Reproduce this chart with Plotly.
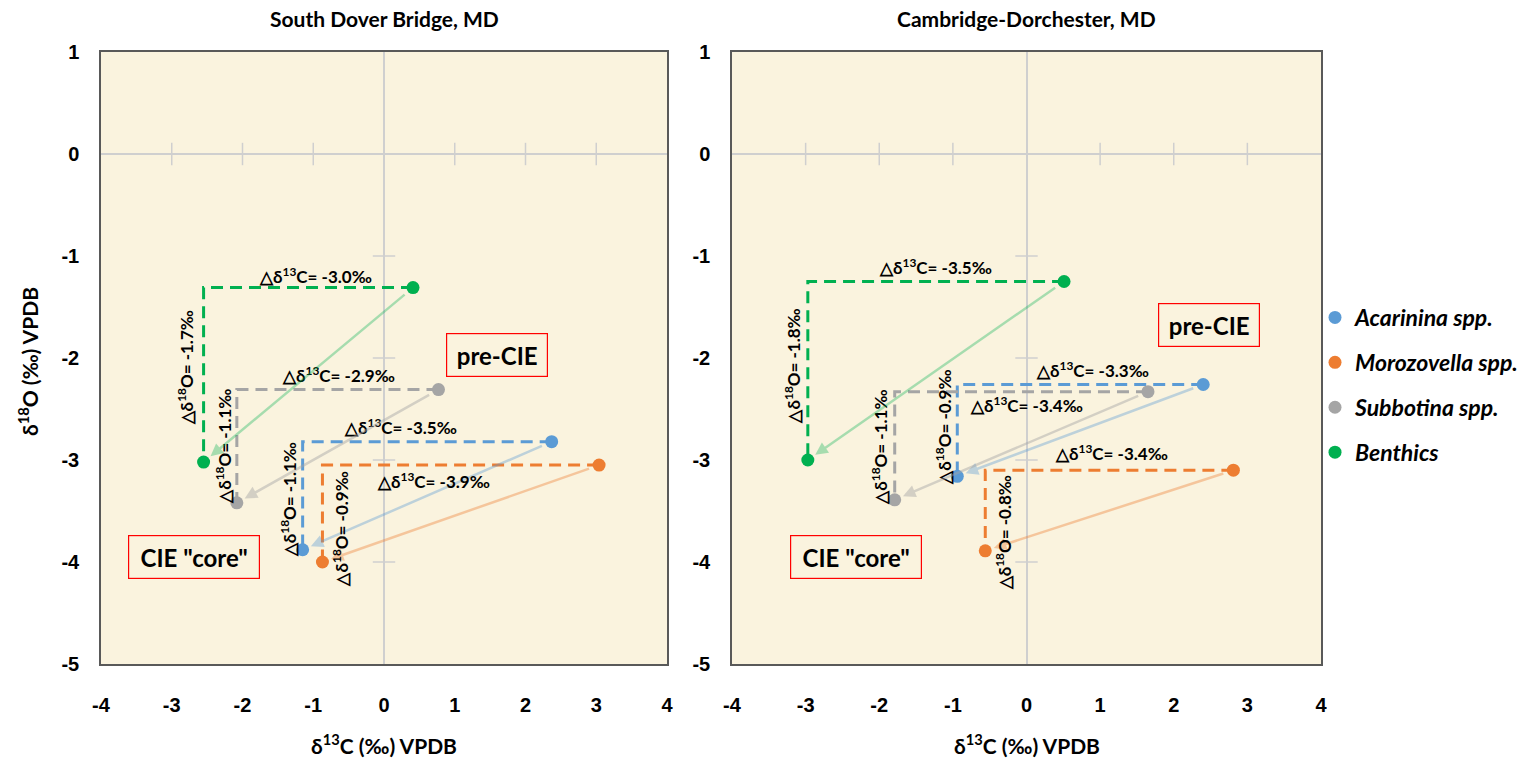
import plotly.graph_objects as go
from plotly.subplots import make_subplots

# ---------------- data ----------------
sites = ["South Dover Bridge, MD", "Cambridge-Dorchester, MD"]
species = ["Acarinina spp.", "Morozovella spp.", "Subbotina spp.", "Benthics"]

# South Dover Bridge
sdb_pre_c = [2.37, 3.04, 0.77, 0.41]
sdb_pre_o = [-2.82, -3.05, -2.31, -1.31]
sdb_core_c = [-1.15, -0.87, -2.08, -2.55]
sdb_core_o = [-3.88, -4.00, -3.42, -3.02]
sdb_d13c = ["-3.5", "-3.9", "-2.9", "-3.0"]
sdb_d18o = ["-1.1", "-0.9", "-1.1", "-1.7"]

# Cambridge-Dorchester
cd_pre_c = [2.40, 2.81, 1.65, 0.51]
cd_pre_o = [-2.26, -3.10, -2.33, -1.25]
cd_core_c = [-0.94, -0.56, -1.79, -2.97]
cd_core_o = [-3.16, -3.89, -3.39, -3.00]
cd_d13c = ["-3.3", "-3.4", "-3.4", "-3.5"]
cd_d18o = ["-0.9", "-0.8", "-1.1", "-1.8"]

x_ticks = [-4, -3, -2, -1, 0, 1, 2, 3, 4]
x_ticktext = ["-4", "-3", "-2", "-1", "0", "1", "2", "3", "4"]
y_ticks = [-5, -4, -3, -2, -1, 0, 1]
y_ticktext = ["-5", "-4", "-3", "-2", "-1", "0", "1"]

# ---------------- styling / placement ----------------
colors = ["#5B9BD5", "#ED7D31", "#A5A5A5", "#00B050"]
light = ["rgba(91,155,213,0.38)", "rgba(237,125,49,0.38)",
         "rgba(165,165,165,0.45)", "rgba(0,176,80,0.33)"]

# label placement (data coords) for delta annotations
sdb_c_lab = [(0.24, -2.67), (0.70, -3.20), (-0.65, -2.16), (-0.97, -1.19)]
sdb_o_lab = [(-1.35, -3.39), (-0.62, -3.68), (-2.26, -2.87), (-2.81, -2.10)]
cd_c_lab = [(0.89, -2.11), (1.16, -2.93), (0.00, -2.46), (-1.23, -1.10)]
cd_o_lab = [(-1.13, -2.68), (-0.32, -3.71), (-1.99, -2.87), (-3.18, -2.08)]

W, H = 1535, 758
xdom = [[101 / W, 667 / W], [732 / W, 1321 / W]]
ydom = [1 - 664 / H, 1 - 52 / H]

TXT_FONT = "Lato, 'Open Sans', sans-serif"
TICK_FONT = "'Liberation Sans', Arial, sans-serif"
BG = "#FAF3DE"
ZERO = "#CFCFCF"

fig = make_subplots(rows=1, cols=2)

datasets = [
    (sdb_pre_c, sdb_pre_o, sdb_core_c, sdb_core_o, sdb_d13c, sdb_d18o, sdb_c_lab, sdb_o_lab),
    (cd_pre_c, cd_pre_o, cd_core_c, cd_core_o, cd_d13c, cd_d18o, cd_c_lab, cd_o_lab),
]

annotations = []
lab_font = dict(family=TXT_FONT, size=17, color="black", weight="bold")

for k, (pc, po, cc, co, dc, do, clab, olab) in enumerate(datasets):
    col = k + 1
    xr = "x" if k == 0 else "x2"
    yr = "y" if k == 0 else "y2"
    # zero-line tick marks
    xt = [v for v in x_ticks if abs(v) < 4 and v != 0]
    yt = [v for v in y_ticks if -5 < v < 0]
    fig.add_trace(go.Scatter(
        x=xt, y=[0] * len(xt), mode="markers",
        marker=dict(symbol="line-ns", size=16, line=dict(color=ZERO, width=1.5)),
        showlegend=False, hoverinfo="skip"), row=1, col=col)
    fig.add_trace(go.Scatter(
        x=[0] * len(yt), y=yt, mode="markers",
        marker=dict(symbol="line-ew", size=16, line=dict(color=ZERO, width=1.5)),
        showlegend=False, hoverinfo="skip"), row=1, col=col)
    for i, sp in enumerate(species):
        # dashed path
        fig.add_trace(go.Scatter(
            x=[pc[i], cc[i], cc[i]], y=[po[i], po[i], co[i]], mode="lines",
            line=dict(color=colors[i], width=3, dash="12px,7px"),
            showlegend=False, hoverinfo="skip"), row=1, col=col)
    for i, sp in enumerate(species):
        fig.add_trace(go.Scatter(
            x=[pc[i], cc[i]], y=[po[i], co[i]], mode="markers",
            marker=dict(color=colors[i], size=13),
            name=sp, legendgroup=sp, showlegend=(k == 0)), row=1, col=col)
        # arrow
        annotations.append(dict(
            x=cc[i], y=co[i], ax=pc[i], ay=po[i], xref=xr, yref=yr, axref=xr, ayref=yr,
            text="", showarrow=True, arrowhead=2, arrowsize=1, arrowwidth=2.5,
            arrowcolor=light[i], standoff=9, startstandoff=9))
        # delta labels
        annotations.append(dict(
            x=clab[i][0], y=clab[i][1], xref=xr, yref=yr, showarrow=False,
            text="△δ<sup>13</sup>C= " + dc[i] + "‰", font=lab_font))
        annotations.append(dict(
            x=olab[i][0], y=olab[i][1], xref=xr, yref=yr, showarrow=False, textangle=-90,
            text="△δ<sup>18</sup>O= " + do[i] + "‰", font=lab_font))

# boxes
box_font = dict(family=TXT_FONT, size=24, color="black", weight="bold")
for xr, yr, pos_pre, pos_core in [("x", "y", (1.60, -1.97), (-2.68, -3.95)),
                                   ("x2", "y2", (2.485, -1.675), (-2.31, -3.95))]:
    annotations.append(dict(x=pos_pre[0], y=pos_pre[1], xref=xr, yref=yr, showarrow=False,
                            text="pre-CIE", font=box_font, bordercolor="#FF0000",
                            borderwidth=1.2, borderpad=0, width=100, height=42))
    annotations.append(dict(x=pos_core[0], y=pos_core[1], xref=xr, yref=yr, showarrow=False,
                            text='CIE "core"', font=box_font, bordercolor="#FF0000",
                            borderwidth=1.2, borderpad=0, width=130, height=42))

title_font = dict(family=TXT_FONT, size=21, color="black", weight="bold")
for k, s in enumerate(sites):
    cx = (xdom[k][0] + xdom[k][1]) / 2
    annotations.append(dict(x=cx, y=1 - 19 / H, xref="paper", yref="paper", showarrow=False,
                            text=s, font=title_font, xanchor="center", yanchor="middle"))
    annotations.append(dict(x=cx, y=1 - 744 / H, xref="paper", yref="paper", showarrow=False,
                            text="δ<sup>13</sup>C (‰) VPDB", font=title_font,
                            xanchor="center", yanchor="middle"))
annotations.append(dict(x=28 / W, y=1 - 362 / H, xref="paper", yref="paper", showarrow=False,
                        text="δ<sup>18</sup>O (‰) VPDB", textangle=-90, font=title_font,
                        xanchor="center", yanchor="middle"))

axis_common = dict(showgrid=False, showline=True, mirror=True, linecolor="#595959",
                   linewidth=1.5, zeroline=True, zerolinecolor=ZERO, zerolinewidth=1.5,
                   ticks="", tickfont=dict(family=TICK_FONT, size=20, color="black", weight="bold"))

for k in range(2):
    xa = "xaxis" if k == 0 else "xaxis2"
    ya = "yaxis" if k == 0 else "yaxis2"
    fig.layout[xa].update(domain=xdom[k], range=[-4, 4], tickvals=x_ticks, ticktext=x_ticktext,
                          ticklabelstandoff=22, **axis_common)
    fig.layout[ya].update(domain=ydom, range=[-5, 1], tickvals=y_ticks, ticktext=y_ticktext,
                          ticklabelstandoff=16, **axis_common)

fig.update_layout(
    width=W, height=H, margin=dict(l=0, r=0, t=0, b=0, autoexpand=False),
    paper_bgcolor="white", plot_bgcolor=BG,
    annotations=annotations,
    legend=dict(x=1315 / W, y=1 - 296 / H, xanchor="left", yanchor="top",
                font=dict(family=TXT_FONT, size=23, color="black", weight="bold", style="italic"),
                tracegroupgap=12, bgcolor="rgba(0,0,0,0)", itemwidth=30),
)

fig.write_html("out.html")
